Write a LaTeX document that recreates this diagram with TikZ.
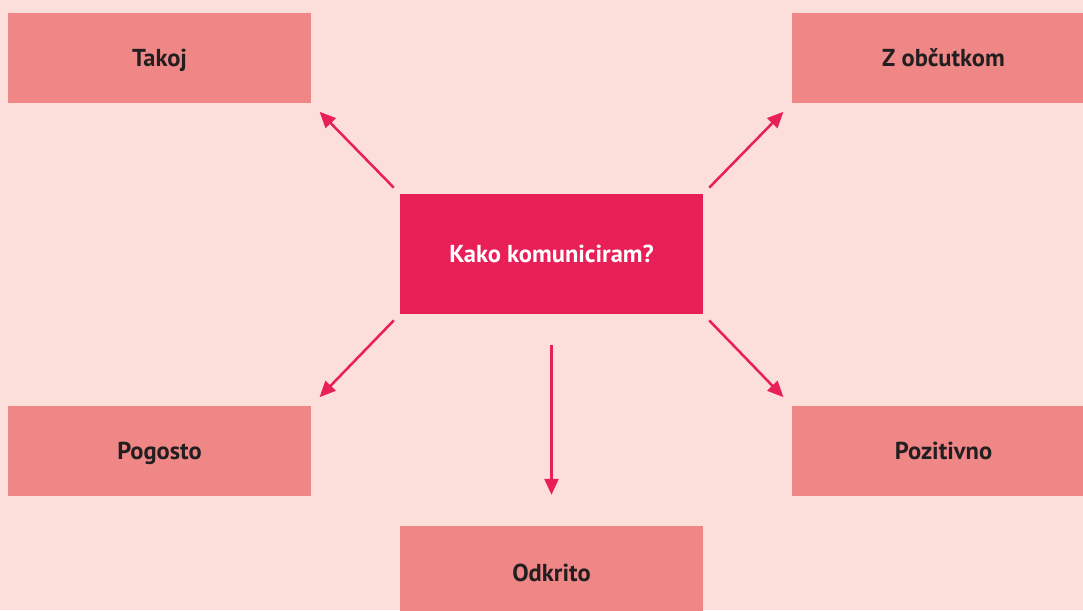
\documentclass[tikz,border=0pt]{standalone}
\usepackage{fontspec}
\setmainfont{PT Sans}
\usetikzlibrary{arrows.meta}
\definecolor{bgpink}{HTML}{FCDEDB}
\definecolor{salmon}{HTML}{F08787}
\definecolor{crimson}{HTML}{E91F57}
\definecolor{darktext}{HTML}{231F20}
\tikzset{
  boxtext/.style={font=\fontsize{24.5}{28}\selectfont\bfseries, text height=17pt, text depth=0pt},
  leaf/.style={fill=salmon, draw=none, minimum width=303pt, minimum height=90pt, inner sep=0pt,
    boxtext, text=darktext},
  hub/.style={fill=crimson, draw=none, minimum width=303pt, minimum height=120pt, inner sep=0pt,
    boxtext, text=white},
  link/.style={draw=crimson, line width=2.5pt, -{Triangle[length=16pt,width=14pt]}},
}
\begin{document}
\begin{tikzpicture}[x=1pt,y=-1pt]
\useasboundingbox (0,0) rectangle (1083,610);
\fill[bgpink] (0,0) rectangle (1083,610);
\begin{scope}
\clip (0,0) rectangle (1083,610);
\node[hub] (c) at (551.5,254) {Kako komuniciram?};
\node[leaf] (takoj) at (159.5,58) {Takoj};
\node[leaf] (obc) at (943.5,58) {Z občutkom};
\node[leaf] (pog) at (159.5,451) {Pogosto};
\node[leaf] (poz) at (943.5,451) {Pozitivno};
\node[leaf, minimum height=94pt] (odk) at (551.5,573) {Odkrito};
\draw[link, shorten <=8.6pt, shorten >=12pt] (c.north west) -- (takoj.south east);
\draw[link, shorten <=8.6pt, shorten >=12pt] (c.north east) -- (obc.south west);
\draw[link, shorten <=8.6pt, shorten >=12pt] (c.south west) -- (pog.north east);
\draw[link, shorten <=8.6pt, shorten >=12pt] (c.south east) -- (poz.north west);
\draw[link, shorten <=31pt, shorten >=31pt] (c.south) -- (odk.north);
\end{scope}
\end{tikzpicture}
\end{document}
